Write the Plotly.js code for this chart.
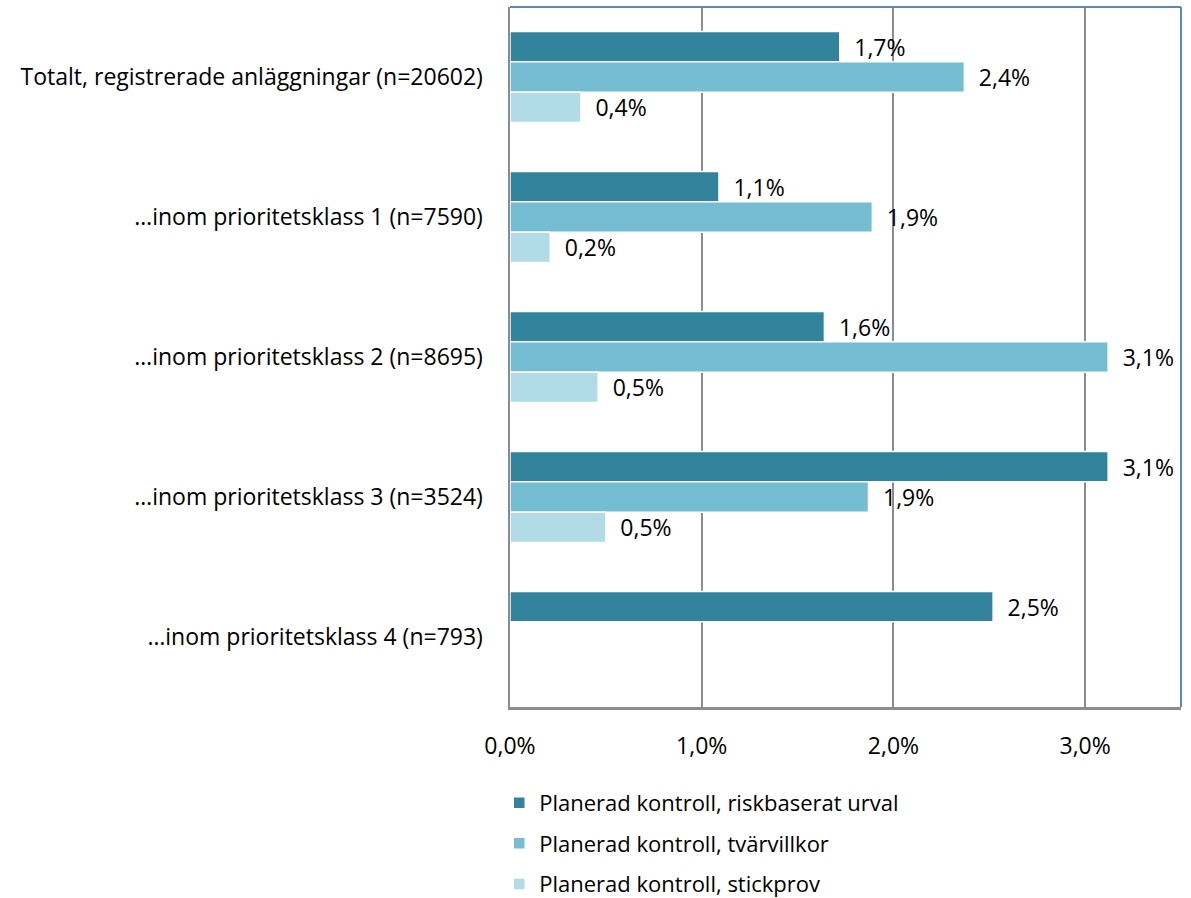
<!DOCTYPE html>
<html>
<head>
<meta charset="utf-8">
<script src="https://cdn.plot.ly/plotly-3.0.1.min.js"></script>
<style>html,body{margin:0;padding:0;background:#fff;}#chart{width:1191px;height:898px;}</style>
</head>
<body>
<div id="chart"></div>
<script>
const categories = [
  "Totalt, registrerade anläggningar (n=20602)",
  "…inom prioritetsklass 1 (n=7590)",
  "…inom prioritetsklass 2 (n=8695)",
  "…inom prioritetsklass 3 (n=3524)",
  "…inom prioritetsklass 4 (n=793)"
];
const seriesNames = [
  "Planerad kontroll, riskbaserat urval",
  "Planerad kontroll, tvärvillkor",
  "Planerad kontroll, stickprov"
];
const riskbaserat = [1.72, 1.09, 1.64, 3.12, 2.52];
const tvarvillkor = [2.37, 1.89, 3.12, 1.87, null];
const stickprov = [0.37, 0.21, 0.46, 0.50, null];
const xTicks = [0, 1, 2, 3];
const xTickLabels = ["0,0%", "1,0%", "2,0%", "3,0%"];

const colors = ["#31849b", "#74bdd3", "#b1dbe7"];
const values = [riskbaserat, tvarvillkor, stickprov];
const font = "'Open Sans', sans-serif";
const fs = 23;

const traces = values.map((v, i) => ({
  type: "bar",
  orientation: "h",
  name: seriesNames[i],
  y: categories,
  x: v,
  marker: {color: colors[i], line: {color: "#ffffff", width: 1.5}},
  texttemplate: "\u2002%{x:.1f}%",
  textposition: "outside",
  constraintext: "none",
  cliponaxis: false,
  textfont: {family: font, size: fs, color: "#000"},
  legendgroup: "g" + i,
  hoverinfo: "skip"
}));

const layout = {
  width: 1191, height: 898,
  margin: {l: 510, r: 10, t: 7, b: 191, autoexpand: false},
  paper_bgcolor: "#fff", plot_bgcolor: "#fff",
  separators: ",.",
  barmode: "group",
  bargap: 0.35,
  bargroupgap: 0,
  font: {family: font, size: fs, color: "#000"},
  xaxis: {
    range: [0, 3.5],
    tickvals: xTicks,
    ticktext: xTickLabels,
    showgrid: true, gridcolor: "#8c8c8c", gridwidth: 2,
    zeroline: false,
    showline: true, linecolor: "#8c8c8c", linewidth: 2.5,
    ticks: "", ticklabelstandoff: 17,
    tickfont: {family: font, size: fs, color: "#000"},
    automargin: false,
    fixedrange: true
  },
  yaxis: {
    autorange: "reversed",
    type: "category",
    showgrid: false, zeroline: false,
    showline: true, linecolor: "#8c8c8c", linewidth: 2.5,
    ticks: "", ticklabelstandoff: 20,
    tickfont: {family: font, size: fs, color: "#000"},
    automargin: false,
    fixedrange: true
  },
  shapes: [
    {type: "line", xref: "paper", yref: "paper", x0: 0, x1: 1, y0: 1, y1: 1, line: {color: "#5b86c5", width: 2}},
    {type: "line", xref: "paper", yref: "paper", x0: 1, x1: 1, y0: 0, y1: 1, line: {color: "#5b86c5", width: 2}}
  ],
  legend: {
    orientation: "v",
    x: -0.016, xanchor: "left",
    y: -0.107, yanchor: "top",
    traceorder: "grouped",
    tracegroupgap: 9,
    font: {family: font, size: 22, color: "#000"},
    itemwidth: 30
  },
  showlegend: true
};

Plotly.newPlot("chart", traces, layout, {displayModeBar: false, staticPlot: true});
</script>
</body>
</html>
